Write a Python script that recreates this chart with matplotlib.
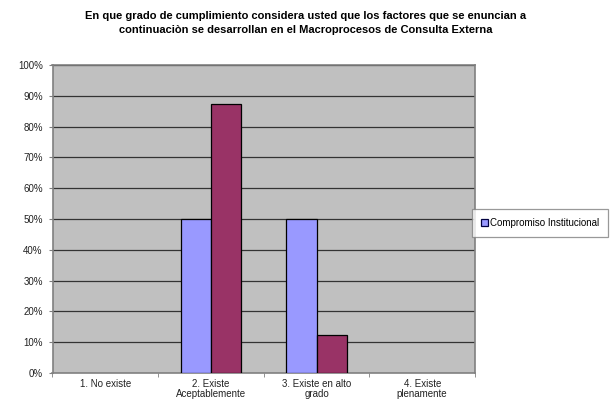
import matplotlib
matplotlib.use("Agg")
import matplotlib.pyplot as plt
import numpy as np
from matplotlib.ticker import PercentFormatter

# data
categorias = ["1. No existe", "2. Existe\nAceptablemente", "3. Existe en alto\ngrado", "4. Existe\nplenamente"]
serie_azul = [0.0, 0.50, 0.50, 0.0]
serie_roja = [0.0, 0.875, 0.125, 0.0]
nombre_azul = "Compromiso Institucional"
titulo = ("En que grado de cumplimiento considera usted que los factores que se enuncian a\n"
          "continuaciòn se desarrollan en el Macroprocesos de Consulta Externa")

plt.rcParams['font.family'] = ['Liberation Sans', 'DejaVu Sans']

fig = plt.figure(figsize=(6.11, 4.07), dpi=100)
W, H = 611, 407
ax = fig.add_axes([52.5 / W, (H - 373) / H, (475 - 52.5) / W, (373 - 65) / H])

x = np.arange(len(categorias))
w = 0.285
# no outline on empty (zero) bars, like the reference
bordes_azul = ["black" if v > 0 else "none" for v in serie_azul]
bordes_roja = ["black" if v > 0 else "none" for v in serie_roja]
ax.bar(x - w / 2, serie_azul, w, color="#9999FF", edgecolor=bordes_azul, linewidth=0.9,
       label=nombre_azul, zorder=3)
ax.bar(x + w / 2, serie_roja, w, color="#993366", edgecolor=bordes_roja, linewidth=0.9, zorder=3)

ax.set_facecolor("#C0C0C0")
ax.set_xlim(-0.5, len(categorias) - 0.5)
ax.set_ylim(0, 1)
ax.set_yticks(np.arange(0, 1.01, 0.1))
ax.yaxis.set_major_formatter(PercentFormatter(1.0, decimals=0))
for yv in np.arange(0.1, 1.01, 0.1):
    ax.axhline(yv, color="#333333", linewidth=0.9, zorder=1)

ax.set_xticks(x)
ax.set_xticklabels(categorias, fontsize=7, color="#222222", linespacing=1.0)
ax.set_xticks(np.arange(-0.5, len(categorias), 1), minor=True)
ax.tick_params(axis="x", which="major", length=0, pad=4)
ax.tick_params(axis="x", which="minor", length=3, color="#808080")
ax.tick_params(axis="y", length=3, color="#808080", labelsize=7, labelcolor="#222222", pad=4)

for s in ax.spines.values():
    s.set_color("#808080")
    s.set_linewidth(1.2)

fig.text(0.5, 1 - 23 / H, titulo, ha="center", va="center", fontsize=8,
         fontweight="bold", linespacing=1.6)

leg = fig.legend(loc="upper left", bbox_to_anchor=(472 / W, 1 - 209 / H), fontsize=7,
                 frameon=True, fancybox=False, handlelength=0.7, handleheight=0.7,
                 handletextpad=0.3, borderpad=0.9, borderaxespad=0)
leg.get_frame().set_edgecolor("#808080")
leg.get_frame().set_linewidth(0.9)
leg.legend_handles[0].set_edgecolor("#000040")
leg.legend_handles[0].set_linewidth(0.9)

fig.savefig("out.png", dpi=100)
